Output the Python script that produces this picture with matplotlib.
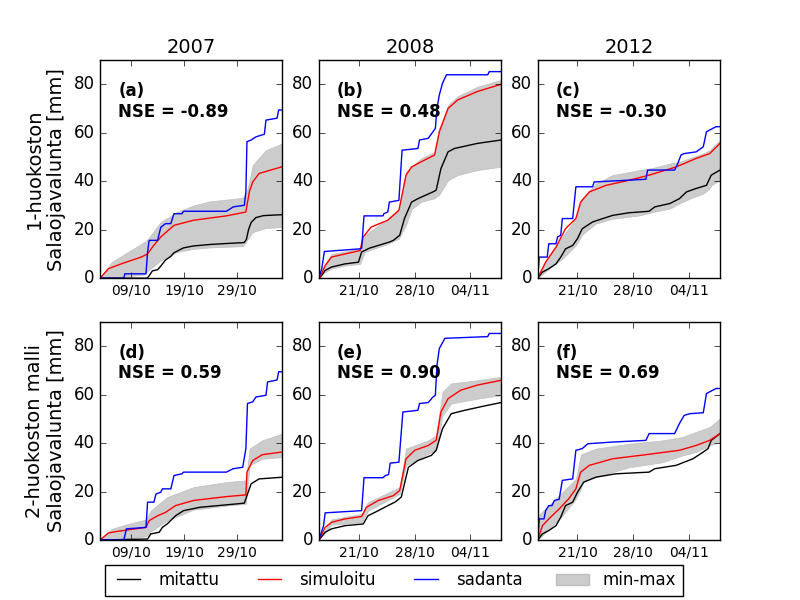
import datetime
import matplotlib
matplotlib.use('Agg')
import matplotlib.pyplot as plt
import matplotlib.dates as mdates
from matplotlib.patches import Patch
from matplotlib.lines import Line2D
from matplotlib.legend_handler import HandlerLine2DCompound
import numpy as np

plt.style.use('classic')

# x values are days counted from 30 Sep (1 = 1 Oct, 32 = 1 Nov)
years = [2007, 2008, 2012]
xlims = {2007: (3.1, 37.6), 2008: (15.9, 38.9), 2012: (16.0, 38.9)}
xticks = {2007: [9, 19, 29], 2008: [21, 28, 35], 2012: [21, 28, 35]}
row_labels = ['1-huokoston\nSalaojavalunta [mm]', '2-huokoston malli\nSalaojavalunta [mm]']
panel_tags = ['(a)', '(b)', '(c)', '(d)', '(e)', '(f)']
nse = ['-0.89', '0.48', '-0.30', '0.59', '0.90', '0.69']

# (a)
black_a_x = [3.1, 12.0, 12.4, 13.0, 14.0, 14.6, 15.5, 16.5, 17.1, 18.9, 20.8, 23.9, 27.0, 30.4, 30.8, 31.2, 31.7, 32.6, 34.0, 37.6]
black_a_y = [0, 0, 1, 3, 3.5, 5, 7.5, 9, 10.5, 12.5, 13.3, 13.9, 14.3, 14.7, 16, 20, 23, 25, 25.8, 26.2]
red_a_x = [3.1, 4.7, 7.1, 10.9, 12.1, 13.0, 14.6, 17.1, 20.8, 27.0, 30.7, 30.9, 31.4, 32.0, 33.2, 37.6]
red_a_y = [0, 3.9, 5.9, 8.7, 10, 12.8, 17, 21.8, 23.9, 25.7, 27.3, 30, 36, 39.7, 43.2, 46]
blue_a_x = [3.1, 7.6, 7.8, 11.8, 12.1, 12.4, 14.0, 14.3, 14.6, 15.5, 16.5, 17.1, 18.6, 18.9, 27.0, 27.6,
            28.3, 30.1, 30.4, 30.7, 30.9, 31.7, 32.6, 34.2, 34.5, 36.6, 36.9, 37.6]
blue_a_y = [0, 0, 1.8, 1.8, 10.8, 15.6, 15.6, 18.3, 21, 22.5, 22.5, 26.6, 26.6, 27.6, 27.6, 28.4,
            29.4, 30, 30, 35.6, 56.3, 57, 58.3, 59.4, 65.2, 66, 69.4, 69.4]
band_a_x = [3.1, 5.3, 8.4, 11.5, 12.1, 14.6, 17.7, 20.8, 23.9, 30.1, 30.9, 32.0, 34.5, 37.6]
band_a_hi = [0, 6.6, 10.8, 14.9, 16, 23.2, 27.3, 30, 31.7, 33.1, 35.6, 46.6, 52.8, 55.6]
band_a_lo = [0, 0.3, 0.8, 1.5, 3.0, 7.3, 10.8, 12.1, 12.7, 13.2, 15.6, 19, 20.7, 21.1]

# (b)
black_b_x = [16.0, 16.7, 17.5, 19.2, 20.9, 21.3, 22.3, 24.8, 25.3, 26.1, 26.7, 27.6, 28.4, 30.3, 30.7, 31.3, 32.2, 33.0, 35.9, 38.9]
black_b_y = [0, 3.2, 4.6, 5.9, 6.6, 10.8, 12.4, 14.9, 15.6, 17.7, 24.6, 31.4, 32.8, 35.6, 36.3, 45.2, 52.1, 53.5, 55.6, 57]
red_b_x = [16.0, 16.7, 17.5, 19.2, 21.1, 21.5, 22.5, 24.6, 26.0, 26.9, 27.6, 28.8, 30.5, 31.1, 32.2, 33.4, 35.9, 38.9]
red_b_y = [0, 5.2, 8.7, 10, 11.4, 17, 21.1, 23.9, 28, 42.5, 45.9, 48, 50.8, 60.4, 70, 73.5, 77, 80]
blue_b_x = [15.9, 16.27, 16.6, 21.1, 21.3, 21.6, 24.0, 24.1, 24.6, 24.8, 26.0, 26.4, 28.4, 28.6, 29.7, 30.3,
            30.6, 30.8, 31.1, 31.5, 32.0, 37.2, 37.4, 38.9]
blue_b_y = [0, 3.9, 11, 12.1, 12.4, 25.7, 25.7, 26.6, 27.3, 31.4, 32.1, 52.8, 53.5, 57, 57.7, 60.4,
            61.8, 70, 75.6, 80.4, 83.9, 83.9, 85.2, 85.2]
band_b_x = [15.9, 16.7, 17.5, 19.2, 21.1, 21.7, 24.6, 26.0, 26.9, 27.6, 28.8, 30.5, 31.1, 32.2, 33.4, 35.9, 38.9]
band_b_hi = [0, 5.9, 10, 11, 12.4, 17.7, 24.6, 28.7, 43.9, 46, 49.4, 52.1, 61.8, 71.4, 75, 79, 81.8]
band_b_lo = [0, 2.5, 4, 5.2, 5.9, 10.8, 14.2, 16.3, 22, 28.5, 31.5, 33, 34.5, 40.4, 42.5, 44.6, 46]

# (c)
black_c_x = [16.0, 16.6, 17.4, 18.3, 18.9, 19.5, 20.4, 21.0, 21.6, 22.9, 25.4, 27.5, 30.0, 30.7, 32.6, 33.8, 34.7, 35.9, 37.2, 37.8, 38.9]
black_c_y = [0, 2.5, 3.9, 5.9, 8.7, 12.1, 13.5, 16.3, 20.4, 23.2, 25.9, 27, 27.6, 29.4, 30.8, 32.8, 35.6, 37, 38.3, 42.5, 44.6]
red_c_x = [16.0, 17.0, 18.3, 19.5, 20.8, 21.4, 22.5, 24.6, 27.5, 30.0, 33.4, 35.9, 37.6, 38.9]
red_c_y = [0, 6.6, 12.8, 20.4, 24.6, 31.4, 35.6, 38.3, 40.4, 42.5, 45.9, 49.4, 51.4, 55.6]
blue_c_x = [16.0, 16.2, 17.2, 17.4, 18.3, 18.5, 18.9, 19.1, 20.4, 20.8, 22.9, 23.1, 29.6, 29.8, 33.2, 33.6,
            34.0, 34.4, 35.9, 36.8, 37.2, 38.4, 38.9]
blue_c_y = [0, 8.7, 8.7, 14.2, 14.2, 17, 17.7, 24.6, 24.6, 37.7, 37.7, 39.7, 40.8, 44.6, 44.6, 47.3,
            50.8, 51.4, 52.1, 54.2, 60.4, 62.5, 62.5]
band_c_x = [16.0, 17.4, 19.1, 20.8, 21.6, 23.3, 25.4, 28.8, 30.5, 32.6, 33.8, 35.1, 36.8, 37.6, 37.8, 38.9]
band_c_hi = [0, 9.4, 17, 24.6, 32.8, 39, 42.5, 44.6, 45.5, 47.3, 48, 49.4, 51.5, 52.8, 53.5, 57]
band_c_lo = [0, 3.9, 8, 13.5, 18, 22.5, 24.5, 25.9, 27.3, 28.7, 30.8, 32.8, 34.9, 37, 38.3, 40.4]

# (d)
black_d_x = [3.1, 12.1, 12.7, 14.3, 14.9, 15.8, 17.4, 18.9, 22.0, 27.0, 30.4, 30.9, 31.7, 33.2, 37.6]
black_d_y = [0, 0.4, 2.5, 3.2, 5.2, 6.6, 10, 12.1, 13.5, 14.5, 15.2, 18.3, 23.2, 25.2, 25.9]
red_d_x = [3.1, 4.7, 5.9, 11.8, 12.4, 14.0, 15.5, 17.4, 20.8, 27.0, 30.7, 30.9, 32.0, 33.8, 37.6]
red_d_y = [0, 2.9, 3.4, 5.2, 8, 10, 11.4, 14.2, 16.3, 17.9, 18.6, 28, 32.8, 35.2, 36.3]
blue_d_x = [3.1, 7.6, 8.1, 11.8, 12.1, 13.3, 13.7, 14.6, 14.9, 16.5, 17.1, 18.6, 18.9, 27.0, 28.3, 30.1,
            30.7, 31.0, 32.0, 32.6, 34.5, 34.8, 36.6, 36.9, 37.6]
blue_d_y = [0, 0, 4.6, 5.2, 15.6, 15.6, 19, 19.7, 21.1, 21.1, 26.6, 27.3, 28, 28, 29.4, 30,
            37.7, 56.3, 57, 59, 59.7, 65.2, 66, 69.4, 69.4]
band_d_x = [3.1, 5.3, 8.4, 11.8, 12.7, 15.8, 20.8, 27.0, 30.7, 31.4, 33.8, 37.6]
band_d_hi = [0, 4.6, 6.6, 8.4, 12.1, 17.7, 21.8, 23.9, 24.6, 37.7, 41.1, 43.9]
band_d_lo = [0, 0.2, 0.7, 1.5, 3.5, 8, 12.5, 14.2, 14.9, 30.8, 33.5, 34.2]

# (e)
black_e_x = [15.9, 16.7, 17.5, 19.2, 21.5, 22.1, 23.4, 24.8, 25.5, 26.3, 27.2, 28.4, 30.1, 30.7, 31.5, 32.6, 34.3, 36.8, 38.9]
black_e_y = [0, 3.2, 4.6, 5.9, 6.6, 10, 12.1, 14.5, 15.6, 17.7, 30, 32.8, 34.9, 37, 45.9, 52.1, 53.5, 55.3, 56.7]
red_e_x = [15.9, 16.7, 17.5, 19.2, 21.3, 21.9, 23.4, 25.3, 26.1, 26.9, 28.0, 29.7, 30.7, 31.3, 32.2, 33.8, 35.9, 38.9]
red_e_y = [0, 5.2, 7.3, 8.7, 9.7, 13.5, 16.3, 18.3, 20.4, 33.5, 37, 39, 41.1, 52.8, 58.3, 61.8, 63.9, 65.9]
blue_e_x = [15.9, 16.5, 16.7, 21.3, 21.6, 24.0, 24.3, 24.7, 24.9, 26.0, 26.5, 28.4, 28.6, 29.7, 30.3, 30.6,
            30.8, 31.1, 31.8, 37.2, 37.4, 38.9]
blue_e_y = [0, 5.9, 11.2, 12.1, 25.7, 25.7, 26.6, 27, 31.7, 32.1, 52.8, 53.5, 56.3, 56.7, 59, 59.7,
            72.1, 79, 83.2, 83.9, 85.2, 85.2]
band_e_x = [15.9, 17.5, 21.3, 22.1, 26.1, 26.9, 29.7, 30.7, 31.5, 32.6, 35.9, 38.9]
band_e_hi = [0, 8.5, 10.8, 15.6, 21.8, 37.7, 41.1, 43.2, 61.1, 64.6, 65.9, 67.3]
band_e_lo = [0, 6.3, 7.3, 12.1, 19, 30.8, 35.6, 37, 51.4, 56.3, 58.3, 59.7]

# (f)
black_f_x = [16.0, 16.6, 17.4, 18.3, 18.9, 19.5, 20.4, 21.0, 21.8, 23.3, 25.8, 30.0, 30.7, 33.4, 34.4, 35.5, 36.8, 37.4, 37.8, 38.9]
black_f_y = [0, 2.5, 3.9, 5.9, 9.4, 14.2, 15.6, 19.7, 23.9, 25.9, 27.3, 28, 29.4, 30.8, 32.1, 33.5, 36.3, 37.7, 41.1, 43.9]
red_f_x = [16.0, 16.6, 17.4, 18.7, 19.9, 20.8, 21.4, 22.5, 25.4, 29.6, 33.8, 35.9, 37.6, 38.9]
red_f_y = [0, 5.9, 8.7, 12.8, 17, 21.1, 28, 30.8, 33.5, 35.2, 37, 39, 41.1, 43.9]
blue_f_x = [16.0, 16.2, 16.8, 17.0, 17.4, 17.8, 18.1, 18.7, 19.1, 20.4, 20.8, 21.6, 22.3, 25.4, 29.6, 30.0,
            33.2, 33.8, 34.4, 35.1, 36.8, 37.2, 38.4, 38.9]
blue_f_y = [0, 8.7, 8.7, 12.1, 14.2, 14.2, 16.3, 16.8, 24.6, 25.2, 37, 37.7, 39.7, 40.4, 41.1, 43.9,
            43.9, 48, 51.4, 52.1, 52.5, 60.4, 62.5, 62.5]
band_f_x = [16.0, 17.4, 19.1, 20.8, 21.4, 21.6, 23.3, 27.5, 31.7, 34.2, 35.9, 37.6, 38.9]
band_f_hi = [10, 14.2, 19.7, 25.2, 34.9, 35.5, 37.7, 39.7, 41.1, 42.5, 44.6, 46.6, 50.1]
band_f_lo = [0, 4.6, 10, 17, 21, 23.9, 26, 30, 32.1, 34.9, 36.3, 39, 40.4]

panels = [
    (black_a_x, black_a_y, red_a_x, red_a_y, blue_a_x, blue_a_y, band_a_x, band_a_lo, band_a_hi),
    (black_b_x, black_b_y, red_b_x, red_b_y, blue_b_x, blue_b_y, band_b_x, band_b_lo, band_b_hi),
    (black_c_x, black_c_y, red_c_x, red_c_y, blue_c_x, blue_c_y, band_c_x, band_c_lo, band_c_hi),
    (black_d_x, black_d_y, red_d_x, red_d_y, blue_d_x, blue_d_y, band_d_x, band_d_lo, band_d_hi),
    (black_e_x, black_e_y, red_e_x, red_e_y, blue_e_x, blue_e_y, band_e_x, band_e_lo, band_e_hi),
    (black_f_x, black_f_y, red_f_x, red_f_y, blue_f_x, blue_f_y, band_f_x, band_f_lo, band_f_hi),
]


def to_dates(year, days):
    base = mdates.date2num(datetime.datetime(year, 9, 30))
    return base + np.asarray(days, dtype=float)


fig, axes = plt.subplots(2, 3, figsize=(8, 6), dpi=100, facecolor='white')
fig.subplots_adjust(left=0.125, right=0.9, bottom=0.1, top=0.9, wspace=0.2, hspace=0.2)

for i, ax in enumerate(axes.flat):
    year = years[i % 3]
    bx, by, rx, ry, sx, sy, gx, glo, ghi = panels[i]
    ax.fill_between(to_dates(year, gx), glo, ghi, facecolor='0.8', edgecolor='0.75', linewidth=0.5)
    ax.plot(to_dates(year, bx), by, color='k', lw=1.0)
    ax.plot(to_dates(year, rx), ry, color='r', lw=1.0)
    ax.plot(to_dates(year, sx), sy, color='b', lw=1.0)

    ax.set_xlim(to_dates(year, xlims[year]))
    ax.set_ylim(0, 90)
    ax.set_yticks([0, 20, 40, 60, 80])
    ax.set_xticks(to_dates(year, xticks[year]))
    ax.xaxis.set_major_formatter(mdates.DateFormatter('%d/%m'))
    ax.tick_params(axis='x', labelsize=10)
    ax.tick_params(axis='y', labelsize=12)

    ax.text(0.1, 0.9, panel_tags[i] + '\nNSE = ' + nse[i], transform=ax.transAxes,
            va='top', ha='left', fontsize=12, fontweight='bold')

    if i < 3:
        ax.set_title(str(year), fontsize=14)
    if i % 3 == 0:
        ax.set_ylabel(row_labels[i // 3], fontsize=14)

handles = [Line2D([], [], color='k'), Line2D([], [], color='r'), Line2D([], [], color='b'),
           Patch(facecolor='0.8', edgecolor='0.75')]
labels = ['mitattu', 'simuloitu', 'sadanta', 'min-max']
fig.legend(handles, labels, loc='center', bbox_to_anchor=(0.4925, 0.033), ncol=4,
           fontsize=12, columnspacing=2.0, handlelength=2.0, handletextpad=0.8,
           handler_map={Line2D: HandlerLine2DCompound()}, frameon=True)

fig.savefig('out.png', dpi=100, facecolor='white')
